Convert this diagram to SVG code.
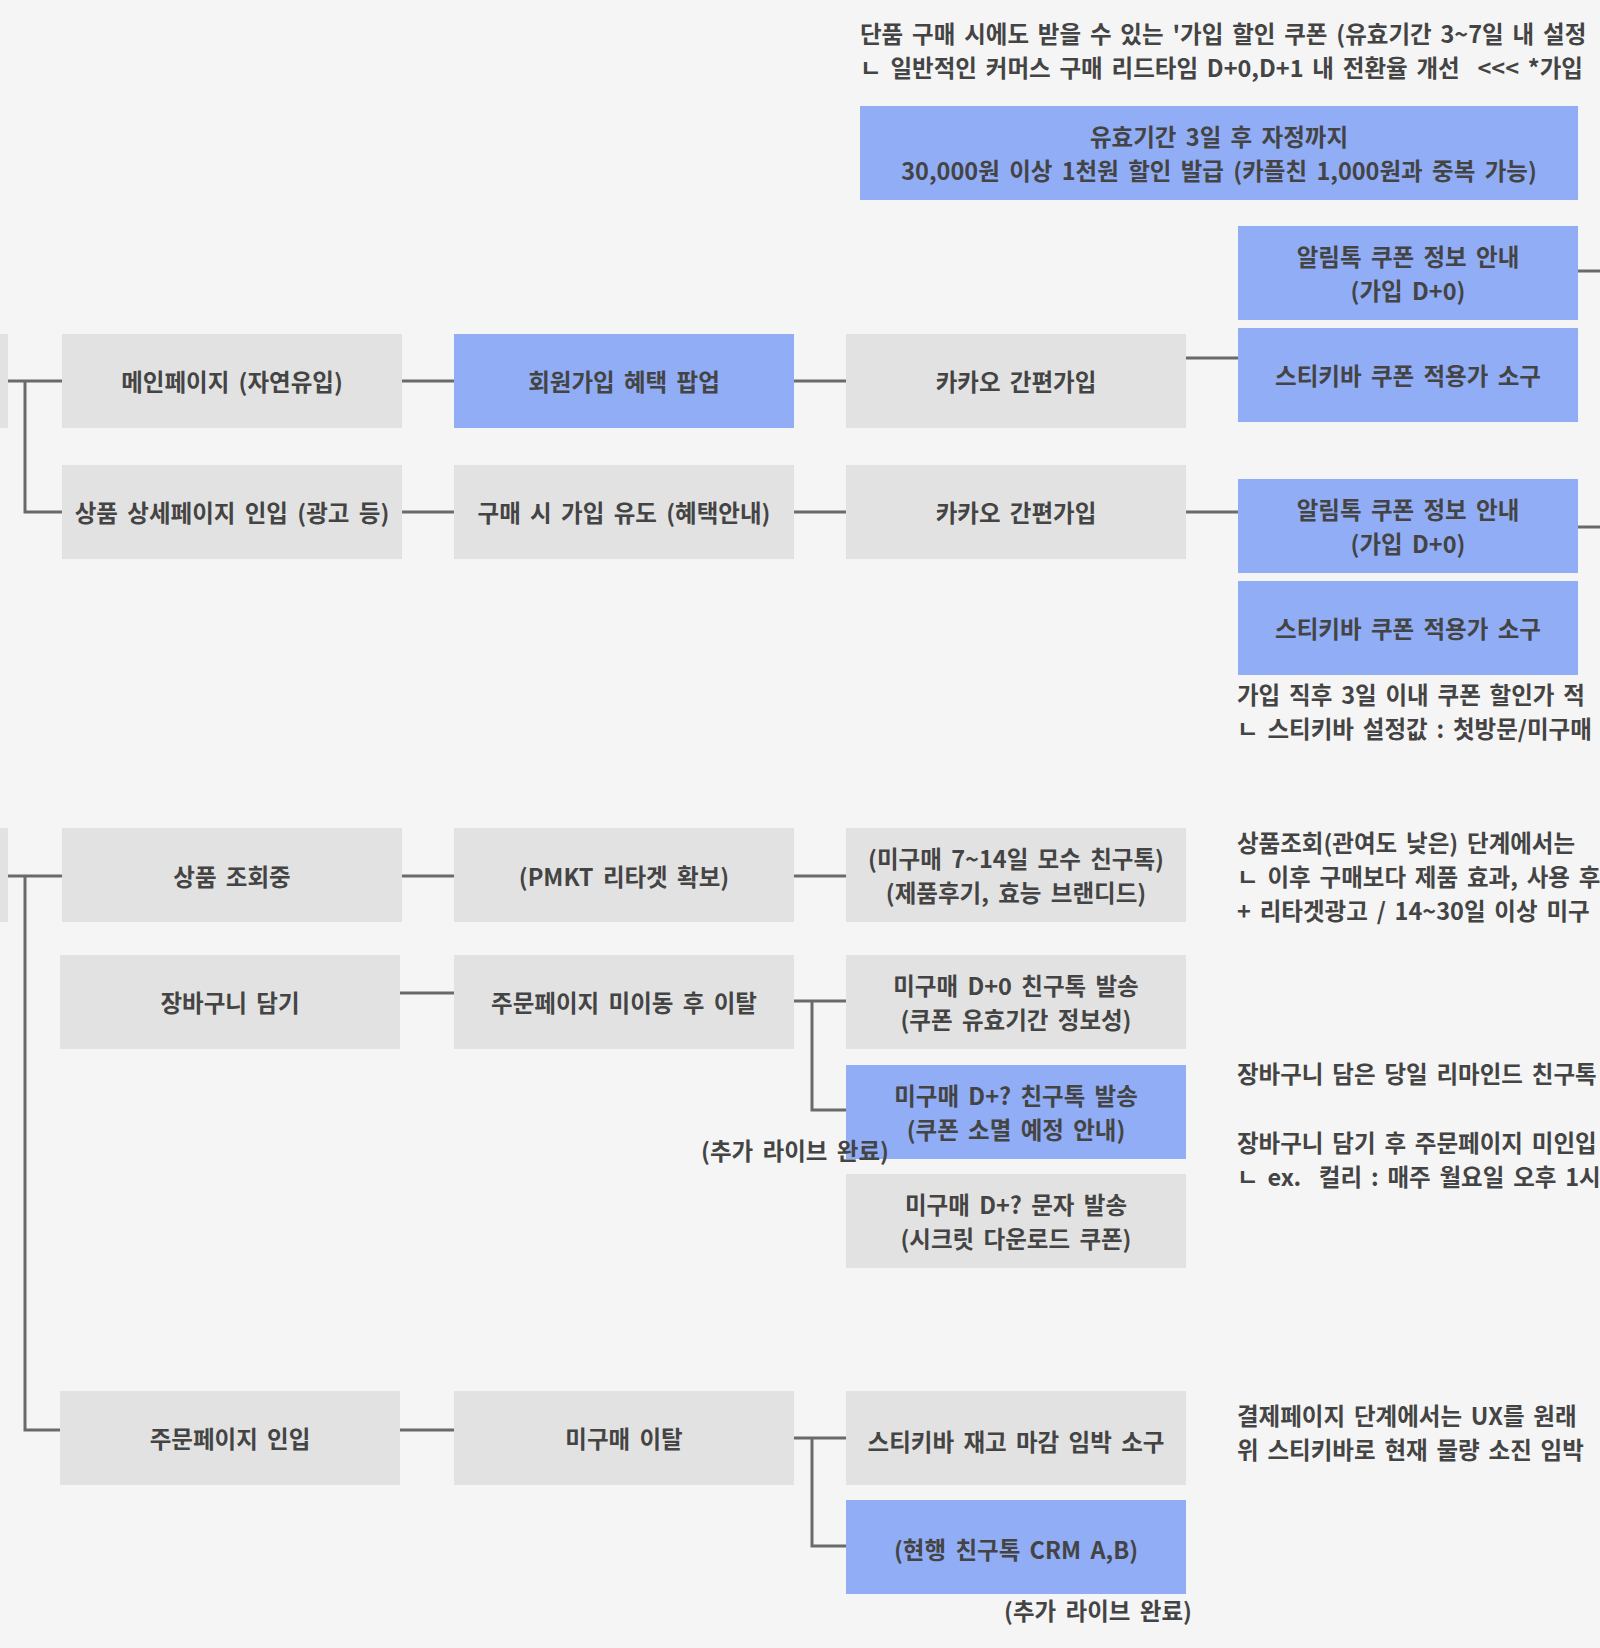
<svg xmlns="http://www.w3.org/2000/svg" width="1600" height="1648" viewBox="0 0 1600 1648">
<style>
.g{fill:#e2e2e2}
.b{fill:#90adf6}
.t{font-family:"Noto Sans CJK KR","Noto Sans",sans-serif;font-size:23.5px;font-weight:700;fill:#444444;text-anchor:middle;dominant-baseline:central;word-spacing:4px}
.a{font-family:"Noto Sans CJK KR","Noto Sans",sans-serif;font-size:23.5px;font-weight:700;fill:#444444;text-anchor:start;dominant-baseline:central;word-spacing:3.5px;white-space:pre}
.c{stroke:#6a6a6a;stroke-width:3;fill:none}
</style>
<rect x="0" y="0" width="1600" height="1648" fill="#f5f5f5"/>

<g id="connectors">
<path class="c" d="M8 381 H62 M25 381 V512 H62 M402 381 H454 M794 381 H846 M1185 358 H1238 M1578 271 H1600"/>
<path class="c" d="M402 512 H454 M794 512 H846 M1185 512 H1238 M1578 527 H1600"/>
<path class="c" d="M8 876 H62 M25 876 V1430 H60 M402 876 H454 M794 876 H846"/>
<path class="c" d="M400 993 H454 M794 1001 H846 M812 1001 V1110 H846"/>
<path class="c" d="M400 1430 H454 M794 1438 H846 M812 1438 V1546 H846"/>
</g>

<g id="notes">
<text class="a"><tspan x="860" y="33">단품 구매 시에도 받을 수 있는 '가입 할인 쿠폰 (유효기간 3~7일 내 설정</tspan><tspan x="860" y="67">ㄴ 일반적인 커머스 구매 리드타임 D+0,D+1 내 전환율 개선  &lt;&lt;&lt; *가입</tspan></text>
<text class="a"><tspan x="1237" y="694">가입 직후 3일 이내 쿠폰 할인가 적</tspan><tspan x="1237" y="728">ㄴ 스티키바 설정값 : 첫방문/미구매</tspan></text>
<text class="a"><tspan x="1237" y="842">상품조회(관여도 낮은) 단계에서는</tspan><tspan x="1237" y="876">ㄴ 이후 구매보다 제품 효과, 사용 후</tspan><tspan x="1237" y="910">+ 리타겟광고 / 14~30일 이상 미구</tspan></text>
<text class="a" x="1237" y="1073">장바구니 담은 당일 리마인드 친구톡</text>
<text class="a"><tspan x="1237" y="1142">장바구니 담기 후 주문페이지 미인입</tspan><tspan x="1237" y="1176">ㄴ ex.  컬리 : 매주 월요일 오후 1시</tspan></text>
<text class="a"><tspan x="1237" y="1415">결제페이지 단계에서는 UX를 원래</tspan><tspan x="1237" y="1449">위 스티키바로 현재 물량 소진 임박</tspan></text>
</g>

<g id="n-top-coupon"><rect class="b" x="860" y="106" width="718" height="94"/>
<text class="t"><tspan x="1219" y="136">유효기간 3일 후 자정까지</tspan><tspan x="1219" y="170">30,000원 이상 1천원 할인 발급 (카플친 1,000원과 중복 가능)</tspan></text></g>

<g id="n-left-1"><rect class="g" x="-2" y="334" width="10" height="94"/></g>
<g id="n-main"><rect class="g" x="62" y="334" width="340" height="94"/><text class="t" x="232" y="381">메인페이지 (자연유입)</text></g>
<g id="n-popup"><rect class="b" x="454" y="334" width="340" height="94"/><text class="t" x="624" y="381">회원가입 혜택 팝업</text></g>
<g id="n-kakao-1"><rect class="g" x="846" y="334" width="340" height="94"/><text class="t" x="1016" y="381">카카오 간편가입</text></g>
<g id="n-alim-1"><rect class="b" x="1238" y="226" width="340" height="94"/><text class="t"><tspan x="1408" y="256">알림톡 쿠폰 정보 안내</tspan><tspan x="1408" y="290">(가입 D+0)</tspan></text></g>
<g id="n-sticky-1"><rect class="b" x="1238" y="328" width="340" height="94"/><text class="t" x="1408" y="375">스티키바 쿠폰 적용가 소구</text></g>

<g id="n-detail"><rect class="g" x="62" y="465" width="340" height="94"/><text class="t" x="232" y="512">상품 상세페이지 인입 (광고 등)</text></g>
<g id="n-induce"><rect class="g" x="454" y="465" width="340" height="94"/><text class="t" x="624" y="512">구매 시 가입 유도 (혜택안내)</text></g>
<g id="n-kakao-2"><rect class="g" x="846" y="465" width="340" height="94"/><text class="t" x="1016" y="512">카카오 간편가입</text></g>
<g id="n-alim-2"><rect class="b" x="1238" y="479" width="340" height="94"/><text class="t"><tspan x="1408" y="509">알림톡 쿠폰 정보 안내</tspan><tspan x="1408" y="543">(가입 D+0)</tspan></text></g>
<g id="n-sticky-2"><rect class="b" x="1238" y="581" width="340" height="94"/><text class="t" x="1408" y="628">스티키바 쿠폰 적용가 소구</text></g>

<g id="n-left-2"><rect class="g" x="-2" y="828" width="10" height="94"/></g>
<g id="n-view"><rect class="g" x="62" y="828" width="340" height="94"/><text class="t" x="232" y="876">상품 조회중</text></g>
<g id="n-pmkt"><rect class="g" x="454" y="828" width="340" height="94"/><text class="t" x="624" y="876">(PMKT 리타겟 확보)</text></g>
<g id="n-friend-7"><rect class="g" x="846" y="828" width="340" height="94"/><text class="t"><tspan x="1016" y="858">(미구매 7~14일 모수 친구톡)</tspan><tspan x="1016" y="892">(제품후기, 효능 브랜디드)</tspan></text></g>

<g id="n-cart"><rect class="g" x="60" y="955" width="340" height="94"/><text class="t" x="230" y="1002">장바구니 담기</text></g>
<g id="n-leave-1"><rect class="g" x="454" y="955" width="340" height="94"/><text class="t" x="624" y="1002">주문페이지 미이동 후 이탈</text></g>
<g id="n-d0"><rect class="g" x="846" y="955" width="340" height="94"/><text class="t"><tspan x="1016" y="985">미구매 D+0 친구톡 발송</tspan><tspan x="1016" y="1019">(쿠폰 유효기간 정보성)</tspan></text></g>
<g id="n-dq"><rect class="b" x="846" y="1065" width="340" height="94"/><text class="t"><tspan x="1016" y="1095">미구매 D+? 친구톡 발송</tspan><tspan x="1016" y="1129">(쿠폰 소멸 예정 안내)</tspan></text></g>
<g id="n-sms"><rect class="g" x="846" y="1174" width="340" height="94"/><text class="t"><tspan x="1016" y="1204">미구매 D+? 문자 발송</tspan><tspan x="1016" y="1238">(시크릿 다운로드 쿠폰)</tspan></text></g>
<text class="t" x="795" y="1150">(추가 라이브 완료)</text>

<g id="n-order"><rect class="g" x="60" y="1391" width="340" height="94"/><text class="t" x="230" y="1438">주문페이지 인입</text></g>
<g id="n-leave-2"><rect class="g" x="454" y="1391" width="340" height="94"/><text class="t" x="624" y="1438">미구매 이탈</text></g>
<g id="n-stock"><rect class="g" x="846" y="1391" width="340" height="94"/><text class="t" x="1016" y="1441">스티키바 재고 마감 임박 소구</text></g>
<g id="n-crm"><rect class="b" x="846" y="1500" width="340" height="94"/><text class="t" x="1016" y="1549">(현행 친구톡 CRM A,B)</text></g>
<text class="t" x="1098" y="1610">(추가 라이브 완료)</text>
</svg>
